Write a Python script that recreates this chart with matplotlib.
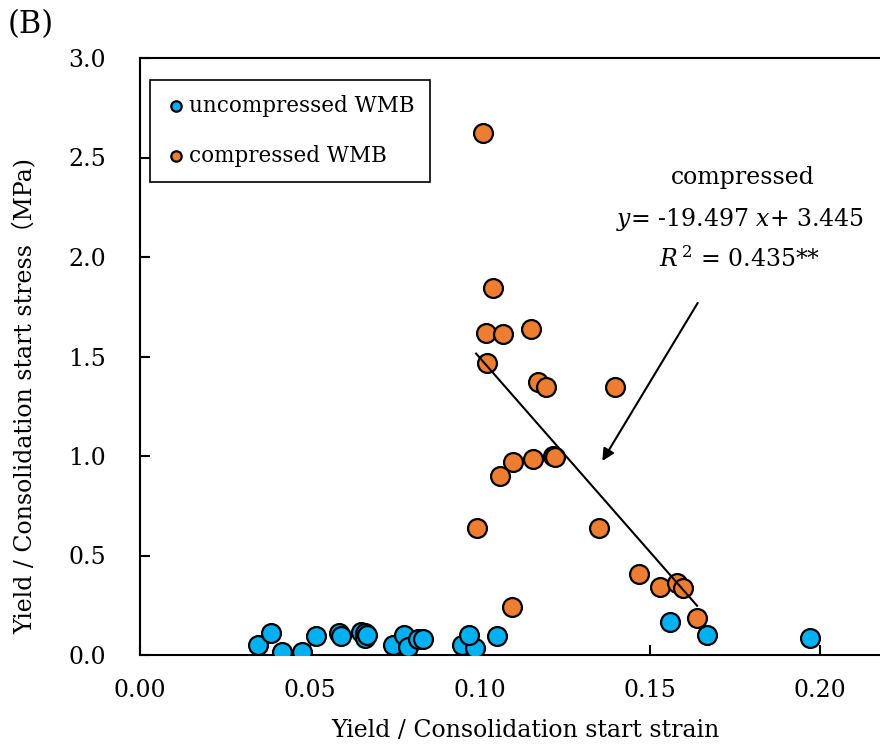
import matplotlib
matplotlib.use("Agg")
import matplotlib.pyplot as plt

plt.rcParams['font.family'] = ['DejaVu Serif', 'Noto Sans CJK JP']
plt.rcParams['mathtext.fontset'] = 'dejavuserif'

# uncompressed WMB
unc_x = [0.0349, 0.0388, 0.0418, 0.0477, 0.0519, 0.0587, 0.0593, 0.0652, 0.0664,
         0.0664, 0.0670, 0.0747, 0.0778, 0.0791, 0.0820, 0.0834, 0.0948, 0.0987,
         0.0970, 0.1050, 0.1560, 0.1668, 0.1972]
unc_y = [0.050, 0.109, 0.017, 0.017, 0.095, 0.110, 0.095, 0.115, 0.110,
         0.085, 0.100, 0.050, 0.100, 0.042, 0.079, 0.080, 0.050, 0.035,
         0.100, 0.095, 0.167, 0.100, 0.084]

# compressed WMB
com_x = [0.1011, 0.1039, 0.1018, 0.1070, 0.1151, 0.1021, 0.1173, 0.1196, 0.1399,
         0.1217, 0.1222, 0.1156, 0.1098, 0.1060, 0.0992, 0.1352, 0.1095, 0.1469,
         0.1531, 0.1580, 0.1599, 0.1639]
com_y = [2.621, 1.843, 1.619, 1.611, 1.636, 1.469, 1.371, 1.346, 1.346,
         0.998, 0.993, 0.987, 0.970, 0.900, 0.636, 0.636, 0.242, 0.406,
         0.343, 0.360, 0.335, 0.184]

slope, intercept = -19.497, 3.445
fit_x = [0.0990, 0.1640]

fig = plt.figure(figsize=(8.8, 7.46), dpi=100)
# axes run past the right edge of the picture, as in the original crop
ax = fig.add_axes([139.5 / 880, 91 / 746, 850 / 880, 597 / 746])

ax.scatter(unc_x, unc_y, s=185, c='#00B0F0', edgecolors='black', linewidths=1.6,
           label='uncompressed WMB', zorder=3)
ax.scatter(com_x, com_y, s=185, c='#ED7D31', edgecolors='black', linewidths=1.6,
           label='compressed WMB', zorder=3)

ax.plot(fit_x, [slope * v + intercept for v in fit_x], color='black', lw=1.5, zorder=4)

ax.annotate('', xy=(0.1357, 0.963), xytext=(0.1646, 1.781),
            arrowprops=dict(arrowstyle='-|>', color='black', lw=1.5, mutation_scale=18))

ax.text(0.1775, 2.40, 'compressed', ha='center', va='center', fontsize=17)
ax.text(0.1765, 2.19, r'$y$= -19.497 $x$+ 3.445', ha='center', va='center', fontsize=17)
ax.text(0.1765, 1.99, r'$R^{\,2}$ = 0.435**', ha='center', va='center', fontsize=17)

ax.set_xlim(0, 0.25)
ax.set_ylim(0, 3.0)
ax.set_xticks([0.00, 0.05, 0.10, 0.15, 0.20])
ax.set_xticklabels(['0.00', '0.05', '0.10', '0.15', '0.20'])
ax.set_yticks([0.0, 0.5, 1.0, 1.5, 2.0, 2.5, 3.0])
ax.set_yticklabels(['0.0', '0.5', '1.0', '1.5', '2.0', '2.5', '3.0'])
ax.tick_params(direction='in', length=7, width=1.5, labelsize=17)
ax.tick_params(axis='x', pad=17)
ax.tick_params(axis='y', pad=24)
for sp in ax.spines.values():
    sp.set_linewidth(1.5)

ax.set_xlabel('Yield / Consolidation start strain', fontsize=17)
ax.xaxis.set_label_coords(0.4535, -0.108)
fig.text(25 / 880, 1 - 396 / 746, 'Yield / Consolidation start stress（MPa)',
         rotation=90, ha='center', va='center', fontsize=17)
fig.text(8 / 880, 1 - 25 / 746, '(B)', ha='left', va='center', fontsize=22)

leg = ax.legend(loc='upper left', bbox_to_anchor=(0.0, 0.982), fontsize=15.5,
                markerscale=0.55, handletextpad=0.1, borderpad=0.7, labelspacing=1.3,
                fancybox=False, edgecolor='black', framealpha=1, handlelength=1.0)
leg.get_frame().set_linewidth(1.2)

fig.savefig('out.png', dpi=100)
